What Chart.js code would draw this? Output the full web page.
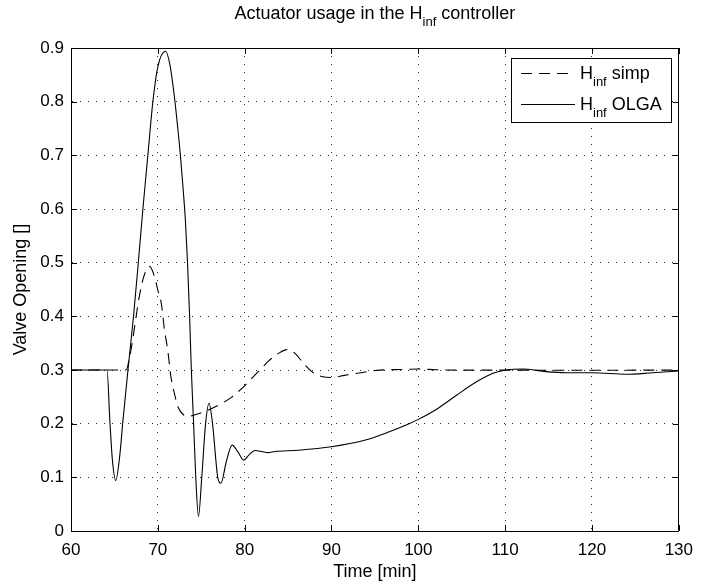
<!DOCTYPE html>
<html>
<head>
<meta charset="utf-8">
<script src="https://cdn.jsdelivr.net/npm/chart.js@4.4.0/dist/chart.umd.min.js"></script>
<style>
  body { margin: 0; background: #fff; }
</style>
</head>
<body>
<canvas id="grafica" width="702" height="582"></canvas>
<script>
// H_inf simp (dashed)
const timeSimp = [60, 66.35, 66.7, 67.14, 67.5, 67.9, 68.4, 69.05, 69.6, 70.0, 70.4, 70.76, 71.14, 71.5,
  71.9, 72.3, 72.85, 73.5, 74.75, 76.8, 78.55, 80.08, 81.2, 82.0, 82.7, 83.9, 84.86, 85.8, 86.95,
  87.9, 88.86, 90, 91.5, 93.4, 95, 96.5, 98, 100, 102, 105, 110, 115, 120, 125, 130];
const valveSimp = [0.3, 0.3, 0.32, 0.36, 0.4, 0.44, 0.475, 0.493, 0.475, 0.449, 0.424, 0.375, 0.337, 0.288,
  0.257, 0.232, 0.218, 0.214, 0.219, 0.233, 0.25, 0.272, 0.291, 0.304, 0.316, 0.331, 0.338, 0.331, 0.309,
  0.295, 0.288, 0.286, 0.29, 0.295, 0.299, 0.3005, 0.3008, 0.302, 0.3005, 0.2998, 0.2998, 0.2996, 0.2995, 0.2997, 0.2997];

// H_inf OLGA (solid)
const timeOlga = [60, 64.15, 64.47, 64.77, 65.15, 65.6, 65.99, 66.56, 67.2, 67.75, 68.28, 68.85, 69.43, 70.0,
  70.9, 71.4, 71.9, 72.3, 72.6, 72.9, 73.17, 73.42, 73.66, 73.86, 74.12, 74.37, 74.68, 75.06, 75.5, 75.9,
  76.3, 76.9, 77.26, 77.9, 78.55, 79.2, 79.9, 80.5, 81.2, 82.0, 82.65, 83.5, 86.2, 90, 93.8, 96.5,
  98.8, 100, 102.1, 104.4, 106.7, 108.6, 110.1, 112, 114.7, 117, 120, 124, 127, 130];
const valveOlga = [0.3, 0.3, 0.207, 0.132, 0.094, 0.138, 0.207, 0.3, 0.4, 0.5, 0.6, 0.7, 0.8, 0.865,
  0.894, 0.868, 0.81, 0.75, 0.7, 0.64, 0.58, 0.5, 0.4, 0.3, 0.2, 0.1, 0.027, 0.1, 0.2, 0.238,
  0.2, 0.1, 0.089, 0.13, 0.16, 0.148, 0.132, 0.142, 0.15, 0.148, 0.146, 0.148, 0.1505, 0.157, 0.169, 0.184,
  0.199, 0.208, 0.227, 0.253, 0.278, 0.294, 0.3, 0.302, 0.297, 0.295, 0.295, 0.292, 0.295, 0.298];

const xTicks = [60, 70, 80, 90, 100, 110, 120, 130];
const yTicks = [0, 0.1, 0.2, 0.3, 0.4, 0.5, 0.6, 0.7, 0.8, 0.9];
const legendNames = ["simp", "OLGA"];

const fuente = "'Liberation Sans', Arial, Helvetica, sans-serif";
Chart.defaults.font.family = fuente;
Chart.defaults.color = "#000";

function puntos(tiempos, valores) {
  return tiempos.map((t, i) => ({ x: t, y: valores[i] }));
}

// text with an "inf" subscript after the H
function textoH(ctx, x, y, size, antes, despues) {
  ctx.font = size + "px " + fuente;
  ctx.fillText(antes, x, y);
  x += ctx.measureText(antes).width;
  ctx.font = Math.round(size * 0.72) + "px " + fuente;
  ctx.fillText("inf", x, y + size * 0.4);
  x += ctx.measureText("inf").width;
  ctx.font = size + "px " + fuente;
  ctx.fillText(despues, x, y);
}
function anchoH(ctx, size, antes, despues) {
  ctx.font = size + "px " + fuente;
  let w = ctx.measureText(antes).width + ctx.measureText(despues).width;
  ctx.font = Math.round(size * 0.72) + "px " + fuente;
  return w + ctx.measureText("inf").width;
}

const marco = {
  id: "marco",
  afterDraw(chart) {
    const { ctx, chartArea: a, scales } = chart;
    ctx.save();
    ctx.strokeStyle = "#000";
    ctx.lineWidth = 1;
    ctx.beginPath();
    ctx.moveTo(Math.round(a.left) + 0.5, Math.round(a.top) + 0.5);
    ctx.lineTo(Math.round(a.right) - 0.5, Math.round(a.top) + 0.5);
    ctx.lineTo(Math.round(a.right) - 0.5, Math.round(a.bottom) - 0.5);
    // inward ticks
    xTicks.forEach((v) => {
      const px = Math.round(scales.x.getPixelForValue(v)) + 0.5;
      ctx.moveTo(px, a.bottom);
      ctx.lineTo(px, a.bottom - 6);
      ctx.moveTo(px, a.top);
      ctx.lineTo(px, a.top + 6);
    });
    yTicks.forEach((v) => {
      const py = Math.round(scales.y.getPixelForValue(v)) + 0.5;
      ctx.moveTo(a.left, py);
      ctx.lineTo(a.left + 6, py);
      ctx.moveTo(a.right, py);
      ctx.lineTo(a.right - 6, py);
    });
    ctx.stroke();

    // legend
    ctx.fillStyle = "#fff";
    ctx.fillRect(511, 58, 160, 64);
    ctx.strokeRect(511.5, 58.5, 160, 64);
    ctx.beginPath();
    ctx.setLineDash([11, 7]);
    ctx.moveTo(521, 73.5);
    ctx.lineTo(575, 73.5);
    ctx.stroke();
    ctx.setLineDash([]);
    ctx.beginPath();
    ctx.moveTo(521, 104.5);
    ctx.lineTo(575, 104.5);
    ctx.stroke();
    ctx.fillStyle = "#000";
    ctx.textBaseline = "alphabetic";
    ctx.textAlign = "left";
    textoH(ctx, 580, 78.5, 18, "H", " " + legendNames[0]);
    textoH(ctx, 580, 109.5, 18, "H", " " + legendNames[1]);

    // title
    const antes = "Actuator usage in the H";
    const despues = " controller";
    const w = anchoH(ctx, 18, antes, despues);
    textoH(ctx, (a.left + a.right) / 2 - w / 2, 18.5, 18, antes, despues);
    ctx.restore();
  },
};

const cxt = document.getElementById("grafica");
const myChart = new Chart(cxt, {
  type: "line",
  data: {
    datasets: [
      {
        label: "Hinf simp",
        data: puntos(timeSimp, valveSimp),
        borderColor: "#000",
        borderWidth: 1.1,
        borderDash: [11, 7],
        pointRadius: 0,
        cubicInterpolationMode: "monotone",
      },
      {
        label: "Hinf OLGA",
        data: puntos(timeOlga, valveOlga),
        borderColor: "#000",
        borderWidth: 1.1,
        pointRadius: 0,
        cubicInterpolationMode: "monotone",
      },
    ],
  },
  options: {
    responsive: false,
    animation: false,
    layout: { padding: { top: 48, right: 19, left: 0, bottom: 0 } },
    plugins: {
      legend: { display: false },
      title: { display: false },
      tooltip: { enabled: false },
    },
    scales: {
      x: {
        type: "linear",
        min: 60,
        max: 130,
        afterFit: (s) => { s.height = 51; },
        afterBuildTicks: (s) => { s.ticks = xTicks.map((v) => ({ value: v })); },
        ticks: { font: { size: 17 }, padding: 9, maxRotation: 0 },
        grid: { color: "rgba(0,0,0,0.85)", drawTicks: false },
        border: { color: "#000", width: 1, dash: [1, 7] },
        title: { display: true, text: "Time [min]", font: { size: 18, lineHeight: 1 }, padding: { top: 0, bottom: 1 } },
      },
      y: {
        type: "linear",
        min: 0,
        max: 0.9,
        afterFit: (s) => { s.width = 71; },
        afterBuildTicks: (s) => { s.ticks = yTicks.map((v) => ({ value: v })); },
        ticks: {
          font: { size: 17 },
          padding: 7,
          callback: (v) => String(Number(v.toFixed(1))),
        },
        grid: { color: "rgba(0,0,0,0.85)", drawTicks: false },
        border: { color: "#000", width: 1, dash: [1, 7] },
        title: { display: true, text: "Valve Opening []", font: { size: 18 }, padding: { top: 10, bottom: 0 } },
      },
    },
  },
  plugins: [marco],
});
</script>
</body>
</html>
